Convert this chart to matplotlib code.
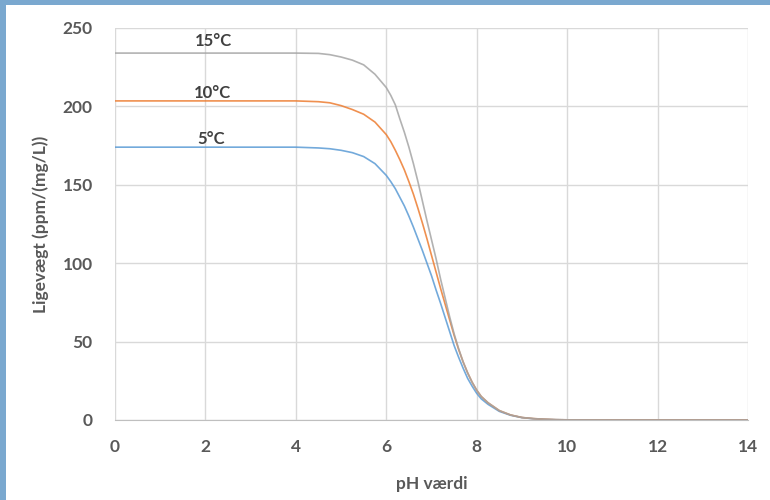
import matplotlib
matplotlib.use("Agg")
import matplotlib.pyplot as plt
from matplotlib.patches import Rectangle

plt.rcParams['font.family'] = ['Lato', 'DejaVu Sans']

ph = [0, 1, 2, 3, 4, 4.5, 4.75, 5, 5.25, 5.5, 5.75, 6, 6.1, 6.2, 6.3, 6.4, 6.5,
      6.6, 6.7, 6.8, 6.9, 7, 7.1, 7.2, 7.3, 7.4, 7.5, 7.6, 7.7, 7.8, 7.9, 8,
      8.1, 8.25, 8.5, 8.75, 9, 9.25, 9.5, 9.75, 10, 11, 12, 13, 14]
t5 = [174, 174, 174, 174, 174, 173.5, 173, 172, 170.5, 168, 163.5, 156, 152,
      147.5, 142, 136.5, 130, 123, 115.5, 108, 100, 92, 83, 74.5, 65.5, 56.5,
      47.5, 40, 33, 26.5, 21.5, 17, 13.5, 10, 5.5, 3, 1.5, 0.8, 0.4, 0.2, 0.1,
      0, 0, 0, 0]
t10 = [203.5, 203.5, 203.5, 203.5, 203.5, 203, 202.3, 200.5, 198, 195, 190,
       182, 177.5, 172, 166, 159.5, 152, 144, 135, 125.5, 115.5, 105, 94.5, 84,
       74, 64, 54, 45, 37, 30, 24, 19, 15, 11, 6, 3.2, 1.6, 0.9, 0.5, 0.2, 0.1,
       0, 0, 0, 0]
t15 = [234, 234, 234, 234, 234, 233.8, 233, 231.5, 229.5, 226.5, 220.5, 212,
       207, 201, 192, 183.5, 174, 163.5, 152, 139.5, 127, 115, 103, 90, 78, 66,
       55, 45.5, 37, 30, 24, 19, 15, 11, 6, 3.2, 1.6, 0.9, 0.5, 0.2, 0.1,
       0, 0, 0, 0]
series_labels = ["5°C", "10°C", "15°C"]
label_pos = [(2.12, 179), (2.15, 208.5), (2.17, 241.5)]
xticks = [0, 2, 4, 6, 8, 10, 12, 14]
yticks = [0, 50, 100, 150, 200, 250]

fig = plt.figure(figsize=(7.7, 5), dpi=100, facecolor='white')
# blue frame (top and left)
fig.patches.append(Rectangle((0, 1 - 5/500), 1, 5/500, transform=fig.transFigure,
                             facecolor='#7aa8cf', edgecolor='none', zorder=0))
fig.patches.append(Rectangle((0, 0), 6/770, 1, transform=fig.transFigure,
                             facecolor='#7aa8cf', edgecolor='none', zorder=0))

ax = fig.add_axes([115/770, 80/500, (748-115)/770, (420-28)/500])
colors = ['#5b9bd5', '#ed7d31', '#a5a5a5']
for ys, c in zip([t5, t10, t15], colors):
    ax.plot(ph, ys, color=c, lw=1.2, alpha=0.85, solid_joinstyle='round')

for lab, (x, y) in zip(series_labels, label_pos):
    ax.text(x, y, lab, ha='center', va='center', fontsize=12, color='#404040',
            fontweight='bold')

ax.set_xlim(0, 14)
ax.set_ylim(0, 250)
ax.set_xticks(xticks)
ax.set_yticks(yticks)
ax.grid(True, color='#d9d9d9', lw=1)
ax.set_axisbelow(True)
for s in ['top', 'right', 'left']:
    ax.spines[s].set_visible(False)
ax.spines['bottom'].set_color('#bfbfbf')
ax.tick_params(length=0, labelsize=12.5, labelcolor='#595959')
for lbl in ax.get_xticklabels() + ax.get_yticklabels():
    lbl.set_fontweight('bold')
ax.tick_params(axis='y', pad=16)
ax.tick_params(axis='x', pad=14)
ax.set_xlabel('pH værdi', fontsize=12.5, color='#595959', labelpad=15,
              fontweight='bold')
ax.set_ylabel('Ligevægt (ppm/(mg/L))', fontsize=12.5, color='#595959',
              labelpad=10, fontweight='bold')

fig.savefig('out.png', dpi=100, facecolor=fig.get_facecolor())
